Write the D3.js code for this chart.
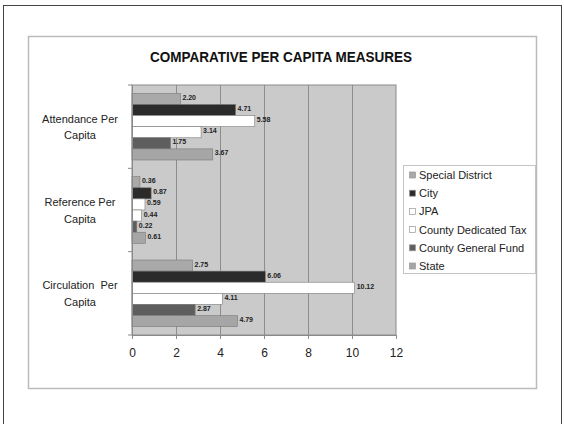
<!DOCTYPE html>
<html><head><meta charset="utf-8">
<script src="https://cdn.jsdelivr.net/npm/d3@7/dist/d3.min.js"></script>
<style>body{margin:0;background:#fff}svg{display:block}</style>
</head><body>
<script>
const categories = [["Attendance Per","Capita"],["Reference Per","Capita"],["Circulation  Per","Capita"]];
const seriesNames = ["Special District","City","JPA","County Dedicated Tax","County General Fund","State"];
const specialDistrict = [2.20, 0.36, 2.75];
const city = [4.71, 0.87, 6.06];
const jpa = [5.58, 0.59, 10.12];
const countyDedicatedTax = [3.14, 0.44, 4.11];
const countyGeneralFund = [1.75, 0.22, 2.87];
const state = [3.67, 0.61, 4.79];
const xTicks = [0,2,4,6,8,10,12];
const seriesValues = [specialDistrict, city, jpa, countyDedicatedTax, countyGeneralFund, state];
const colors = ["#a9a9a9","#2b2b2b","#ffffff","#ffffff","#5e5e5e","#a6a6a6"];
const title = "COMPARATIVE PER CAPITA MEASURES";

const W=564,H=424;
const svg=d3.select("body").append("svg").attr("width",W).attr("height",H);
const font="'Liberation Sans', Arial, sans-serif";

// outer frame
svg.append("rect").attr("x",3.5).attr("y",5.5).attr("width",558).attr("height",430).attr("fill","#fff").attr("stroke","#444").attr("stroke-width",1);
// inner chart frame
svg.append("rect").attr("x",28.5).attr("y",36.5).attr("width",508).attr("height",352).attr("fill","#fff").attr("stroke","#bbb").attr("stroke-width",1.5);

svg.append("text").attr("x",281).attr("y",62).attr("text-anchor","middle")
  .attr("font-family",font).attr("font-weight","bold").attr("font-size",15)
  .attr("textLength",262).attr("lengthAdjust","spacingAndGlyphs")
  .attr("fill","#111").text(title);

const x=d3.scaleLinear().domain([0,12]).range([132,396]);
const y=d3.scaleBand().domain(d3.range(categories.length)).range([85,335]);
const yi=d3.scaleBand().domain(d3.range(seriesNames.length)).range([0,y.bandwidth()]).paddingOuter(0.75);

// plot background
svg.append("rect").attr("x",x(0)).attr("y",85).attr("width",x(12)-x(0)).attr("height",250).attr("fill","#cacaca").attr("stroke","#8a8a8a").attr("stroke-width",1);
// gridlines
svg.append("g").selectAll("line").data(xTicks.slice(1,-1)).join("line")
  .attr("x1",d=>Math.round(x(d))+0.5).attr("x2",d=>Math.round(x(d))+0.5).attr("y1",85).attr("y2",335)
  .attr("stroke","#8c8c8c").attr("stroke-width",1);

// bars
const rows=[];
categories.forEach((c,ci)=>seriesValues.forEach((vals,si)=>rows.push({ci,si,v:vals[ci]})));
svg.append("g").selectAll("rect").data(rows).join("rect")
  .attr("x",x(0)).attr("y",d=>y(d.ci)+yi(d.si)).attr("height",yi.bandwidth())
  .attr("width",d=>x(d.v)-x(0)).attr("fill",d=>colors[d.si]).attr("stroke","#7a7a7a").attr("stroke-width",0.6);
svg.append("g").selectAll("text").data(rows).join("text")
  .attr("x",d=>x(d.v)+2).attr("y",d=>y(d.ci)+yi(d.si)+yi.bandwidth()/2+1)
  .attr("font-family",font).attr("font-size",7).attr("font-weight","bold").attr("fill","#222")
  .text(d=>d.v.toFixed(2));

// axes
const xAxis=d3.axisBottom(x).tickValues(xTicks).tickSize(4).tickFormat(d3.format("d"));
const gx=svg.append("g").attr("transform","translate(0,335)").call(xAxis);
gx.select(".domain").attr("stroke","#8a8a8a");
gx.selectAll(".tick line").attr("stroke","#8a8a8a");
gx.selectAll("text").attr("font-family",font).attr("font-size",12).attr("fill","#222").attr("dy","1.25em");

const gy=svg.append("g").attr("transform","translate(132,0)");
gy.append("line").attr("x1",0.5).attr("x2",0.5).attr("y1",85).attr("y2",335).attr("stroke","#8a8a8a");
gy.selectAll("line.t").data(d3.range(categories.length+1)).join("line").attr("class","t")
  .attr("x1",-4).attr("x2",0).attr("y1",d=>d<categories.length?y(d):335).attr("y2",d=>d<categories.length?y(d):335).attr("stroke","#8a8a8a");
categories.forEach((c,i)=>{
  const t=svg.append("text").attr("x",80).attr("y",y(i)+y.bandwidth()/2-4).attr("text-anchor","middle")
    .attr("font-family",font).attr("font-size",11).attr("fill","#222");
  c.forEach((line,j)=>t.append("tspan").attr("x",80).attr("dy",j?"1.5em":0).attr("xml:space","preserve").text(line));
});

// legend
const lg=svg.append("g");
lg.append("rect").attr("x",403.5).attr("y",165.5).attr("width",132).attr("height",108).attr("fill","#fff").attr("stroke","#c4c4c4");
seriesNames.forEach((n,i)=>{
  const cy=175+i*18.2;
  lg.append("rect").attr("x",409.5).attr("y",cy-3).attr("width",6).attr("height",6).attr("fill",colors[i]).attr("stroke","#999").attr("stroke-width",0.7);
  lg.append("text").attr("x",419).attr("y",cy+4).attr("font-family",font).attr("font-size",11).attr("fill","#222").text(n);
});
</script>
</body></html>
